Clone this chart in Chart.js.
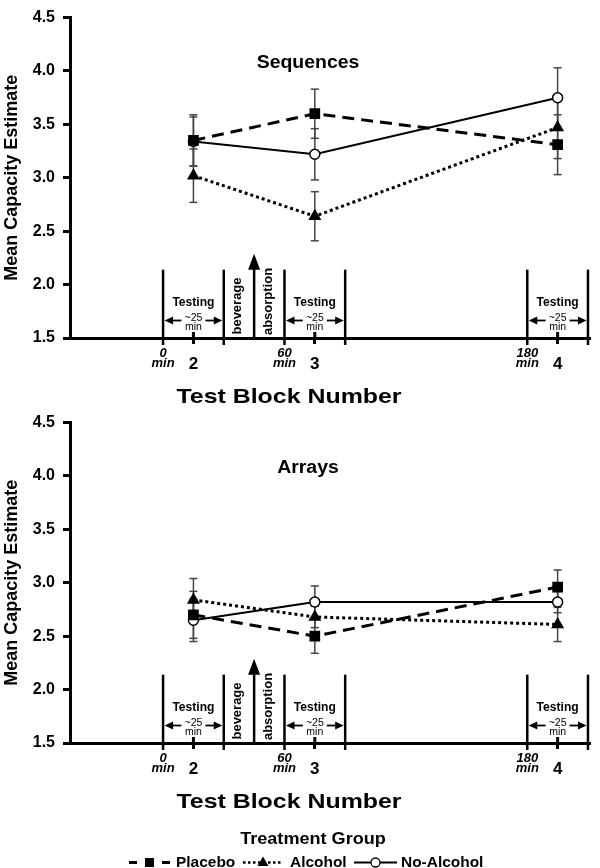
<!DOCTYPE html>
<html><head><meta charset="utf-8">
<script src="https://cdn.jsdelivr.net/npm/chart.js@4"></script>
<style>html,body{margin:0;padding:0;background:#fff}canvas{display:block}</style>
</head><body>
<canvas id="c1" width="600" height="405"></canvas>
<canvas id="c2" width="600" height="463"></canvas>
<script>
// ---------- data ----------
const blocks = ['2', '3', '4'];
const blockMinutes = [15, 75, 195];
const yTicks = [1.5, 2.0, 2.5, 3.0, 3.5, 4.0, 4.5];
const seriesNames = ['Placebo', 'Alcohol', 'No-Alcohol'];

const seqPlacebo = [3.35, 3.60, 3.31];
const seqPlaceboErr = [0.24, 0.23, 0.28];
const seqAlcohol = [3.02, 2.64, 3.47];
const seqAlcoholErr = [0.25, 0.23, 0.29];
const seqNoAlcohol = [3.34, 3.22, 3.75];
const seqNoAlcoholErr = [0.23, 0.24, 0.28];

const arrPlacebo = [2.70, 2.50, 2.96];
const arrPlaceboErr = [0.22, 0.16, 0.16];
const arrAlcohol = [2.84, 2.68, 2.61];
const arrAlcoholErr = [0.20, 0.10, 0.16];
const arrNoAlcohol = [2.65, 2.82, 2.82];
const arrNoAlcoholErr = [0.20, 0.15, 0.10];

const testWindows = [[0, 30], [60, 90], [180, 210]];
const timeMarks = [0, 60, 180];
const timeMarkLabels = ['0', '60', '180'];
const beverageMinute = 45;

// ---------- styles ----------
Chart.defaults.font.family = "'Liberation Sans', Arial, Helvetica, sans-serif";
Chart.defaults.color = '#000';
const FAM = "'Liberation Sans', Arial, Helvetica, sans-serif";
const seriesStyles = [
  {dash: [12, 7], width: 3, point: 'rect', r: 6.5, fill: '#000'},
  {dash: [3, 3], width: 3, point: 'triangle', r: 6, fill: '#000'},
  {dash: [], width: 2, point: 'circle', r: 5, fill: '#fff'}
];

function makeDatasets(vals, errs) {
  return vals.map((v, k) => {
    const st = seriesStyles[k];
    return {
      label: seriesNames[k],
      data: v.map((y, i) => ({x: blockMinutes[i], y: y})),
      errors: errs[k],
      borderColor: '#000', borderWidth: st.width, borderDash: st.dash,
      borderCapStyle: 'butt',
      pointStyle: st.point, pointRadius: st.r, pointHoverRadius: st.r,
      pointBackgroundColor: st.fill, pointBorderColor: '#000', pointBorderWidth: 1.5,
      fill: false, tension: 0
    };
  });
}

function txt(ctx, s, x, y, font, sx, align, rot) {
  ctx.save();
  ctx.translate(x, y);
  if (rot) ctx.rotate(rot);
  ctx.scale(sx || 1, 1);
  ctx.font = font;
  ctx.textAlign = align || 'center';
  ctx.textBaseline = 'alphabetic';
  ctx.fillStyle = '#000';
  ctx.fillText(s, 0, 0);
  ctx.restore();
}

function line(ctx, x1, y1, x2, y2) {
  ctx.beginPath(); ctx.moveTo(x1, y1); ctx.lineTo(x2, y2); ctx.stroke();
}
function tri(ctx, p) {
  ctx.beginPath(); ctx.moveTo(p[0], p[1]); ctx.lineTo(p[2], p[3]); ctx.lineTo(p[4], p[5]); ctx.closePath(); ctx.fill();
}

const errorBars = {
  id: 'errorBars',
  beforeDatasetsDraw(chart) {
    const ctx = chart.ctx, xs = chart.scales.x, ys = chart.scales.y;
    ctx.save();
    ctx.strokeStyle = '#444'; ctx.lineWidth = 1.5; ctx.setLineDash([]);
    chart.data.datasets.forEach(ds => ds.data.forEach((p, i) => {
      const e = ds.errors[i];
      const px = xs.getPixelForValue(p.x);
      const y1 = ys.getPixelForValue(p.y + e), y2 = ys.getPixelForValue(p.y - e);
      line(ctx, px, y1, px, y2);
      line(ctx, px - 4, y1, px + 4, y1);
      line(ctx, px - 4, y2, px + 4, y2);
    }));
    ctx.restore();
  }
};

const annot = {
  id: 'annot',
  afterDraw(chart, args, opts) {
    const ctx = chart.ctx, xs = chart.scales.x, ys = chart.scales.y;
    const X = v => xs.getPixelForValue(v), Y = v => ys.getPixelForValue(v);
    const base = Y(1.5), top = Y(opts.windowTop), tip = Y(opts.arrowTop);
    ctx.save();
    ctx.strokeStyle = '#000'; ctx.fillStyle = '#000'; ctx.setLineDash([]);
    // upward parts of x ticks
    ctx.lineWidth = 3;
    blockMinutes.forEach(m => line(ctx, X(m), base - 6, X(m), base));
    // testing windows
    testWindows.forEach(w => {
      const a = X(w[0]), b = X(w[1]), c = (a + b) / 2;
      ctx.lineWidth = 2.5;
      line(ctx, a, top, a, base + 7);
      line(ctx, b, top, b, base + 7);
      txt(ctx, 'Testing', c, base - 32.5, 'bold 13px ' + FAM, 0.93);
      const ay = base - 17.5;
      ctx.lineWidth = 1.8;
      line(ctx, a + 8, ay, c - 12, ay);
      line(ctx, c + 12, ay, b - 8, ay);
      tri(ctx, [a + 1.5, ay, a + 10, ay - 4, a + 10, ay + 4]);
      tri(ctx, [b - 1.5, ay, b - 10, ay - 4, b - 10, ay + 4]);
      txt(ctx, '~25', c, base - 17, '10.5px ' + FAM, 1);
      txt(ctx, 'min', c, base - 8, '10.5px ' + FAM, 1);
    });
    // time labels
    timeMarks.forEach((t, i) => {
      txt(ctx, timeMarkLabels[i], X(t), base + 19, 'italic bold 13px ' + FAM, 1);
      txt(ctx, 'min', X(t), base + 29, 'italic bold 13px ' + FAM, 1);
    });
    // beverage arrow
    const bx = X(beverageMinute);
    ctx.lineWidth = 2.5;
    line(ctx, bx, base, bx, tip + 12);
    tri(ctx, [bx, tip, bx - 6, tip + 16, bx + 6, tip + 16]);
    txt(ctx, 'beverage', (X(testWindows[0][1]) + bx) / 2 + 2.5, base - 32, 'bold 13px ' + FAM, 1, 'center', -Math.PI / 2);
    txt(ctx, 'absorption', (bx + X(testWindows[1][0])) / 2 + 3, base - 36.5, 'bold 13px ' + FAM, 1, 'center', -Math.PI / 2);
    // panel title and x-axis title
    txt(ctx, opts.title, 308, chart.chartArea.top + 50, 'bold 18px ' + FAM, 1.08);
    txt(ctx, 'Test Block Number', 289, base + 65, 'bold 21px ' + FAM, 1.186);
    // legend
    if (opts.legend) {
      const ly = base + 119.5;
      txt(ctx, 'Treatment Group', 313, base + 100.5, 'bold 16px ' + FAM, 1.13);
      // placebo
      ctx.lineWidth = 3;
      line(ctx, 129, ly, 137, ly); line(ctx, 162, ly, 170, ly);
      ctx.fillRect(145, ly - 4.5, 9, 9);
      txt(ctx, seriesNames[0], 176, base + 124, 'bold 15px ' + FAM, 1.03, 'left');
      // alcohol
      ctx.lineWidth = 2.5; ctx.setLineDash([2.5, 2.5]);
      line(ctx, 243, ly, 283, ly);
      ctx.setLineDash([]);
      tri(ctx, [263, ly - 6, 257.5, ly + 3.5, 268.5, ly + 3.5]);
      txt(ctx, seriesNames[1], 290, base + 124, 'bold 15px ' + FAM, 1.03, 'left');
      // no-alcohol
      ctx.lineWidth = 2;
      line(ctx, 354, ly, 397, ly);
      ctx.beginPath(); ctx.arc(375.5, ly, 4.5, 0, Math.PI * 2);
      ctx.fillStyle = '#fff'; ctx.fill(); ctx.lineWidth = 1.3; ctx.stroke();
      ctx.fillStyle = '#000';
      txt(ctx, seriesNames[2], 401, base + 124, 'bold 15px ' + FAM, 1.03, 'left');
    }
    ctx.restore();
  }
};

function makeChart(id, datasets, title, legend, padBottom) {
  return new Chart(document.getElementById(id), {
    type: 'line',
    data: {datasets: datasets},
    plugins: [errorBars, annot],
    options: {
      responsive: false, animation: false, devicePixelRatio: 1,
      layout: {padding: {top: 10, right: 10, left: 0, bottom: padBottom}},
      plugins: {
        legend: {display: false}, tooltip: {enabled: false},
        annot: {title: title, legend: legend, windowTop: 2.14, arrowTop: 2.29}
      },
      scales: {
        x: {
          type: 'linear', min: -46, max: 211,
          afterBuildTicks: s => { s.ticks = blockMinutes.map(v => ({value: v})); },
          ticks: {
            callback: v => blocks[blockMinutes.indexOf(v)],
            font: {size: 17, weight: 'bold'}, color: '#000', padding: 10,
            maxRotation: 0, autoSkip: false
          },
          grid: {drawOnChartArea: false, tickLength: 6, tickWidth: 3, tickColor: '#000'},
          border: {color: '#000', width: 3},
          afterFit: s => { s.height = 67; }
        },
        y: {
          min: 1.5, max: 4.5,
          afterBuildTicks: s => { s.ticks = yTicks.map(v => ({value: v})); },
          ticks: {callback: v => v.toFixed(1), font: {size: 16, weight: 'bold'}, color: '#000', padding: 8},
          grid: {drawOnChartArea: false, tickLength: 7, tickWidth: 3, tickColor: '#000'},
          border: {color: '#000', width: 3},
          title: {display: true, text: 'Mean Capacity Estimate', font: {size: 18, weight: 'bold'}, color: '#000', padding: {top: 1, bottom: 0}},
          afterFit: s => { s.width = 70; }
        }
      }
    }
  });
}

makeChart('c1', makeDatasets([seqPlacebo, seqAlcohol, seqNoAlcohol], [seqPlaceboErr, seqAlcoholErr, seqNoAlcoholErr]), 'Sequences', false, 0);
makeChart('c2', makeDatasets([arrPlacebo, arrAlcohol, arrNoAlcohol], [arrPlaceboErr, arrAlcoholErr, arrNoAlcoholErr]), 'Arrays', true, 58);
</script>
</body></html>
